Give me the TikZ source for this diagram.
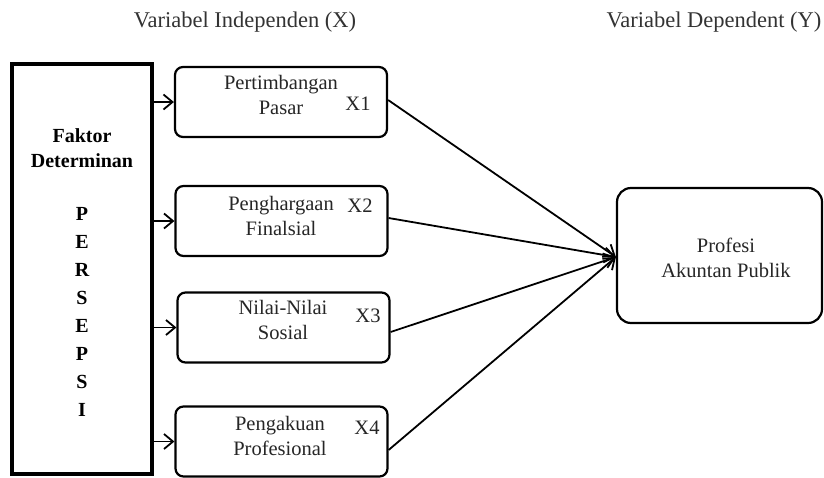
\documentclass[tikz,border=0pt]{standalone}
\usepackage{fontspec}
\setmainfont{Liberation Serif}
\usetikzlibrary{arrows.meta}
\begin{document}
\begin{tikzpicture}[x=1pt,y=-1pt,
  box/.style={draw, line width=2.2pt, rounded corners=8pt, minimum width=212pt, minimum height=70pt, inner sep=0pt},
  txt/.style={font=\fontsize{20.5}{25}\selectfont, align=center, inner sep=0pt, text=black!85},
  ttl/.style={font=\fontsize{22.5}{25}\selectfont, inner sep=0pt, text=black!80},
  bld/.style={font=\bfseries\fontsize{20}{25}\selectfont, align=center, inner sep=0pt},
  conn/.style={line width=1.8pt, -{Straight Barb[length=10pt,width=15pt,line width=1.8pt]}},
  lconn/.style={line width=1.8pt, -{Straight Barb[length=9pt,width=15pt,line width=1.8pt]}}]
\useasboundingbox (0,0) rectangle (824,477);
\fill[white] (0,0) rectangle (824,477);

% titles
\node[ttl] (tx) at (245,22) {Variabel Independen (X)};
\node[ttl] (ty) at (714,22) {Variabel Dependent (Y)};

% left box
\node[draw, line width=3.2pt, minimum width=140pt, minimum height=410pt, inner sep=0pt] (F) at (82,269) {};
\node[bld] (fk) at (82,148) {Faktor\\Determinan};
\node[bld, font=\bfseries\fontsize{20}{28}\selectfont] (ps) at (82,312) {P\\E\\R\\S\\E\\P\\S\\I};

% independent boxes
\node[box] (x1) at (281,102) {};
\node[box] (x2) at (281.5,221) {};
\node[box] (x3) at (283.5,327.5) {};
\node[box] (x4) at (281.5,441.5) {};

\node[txt] (t1) at (281,95) {Pertimbangan\\Pasar};
\node[txt] (t2) at (281,216) {Penghargaan\\Finalsial};
\node[txt] (t3) at (283,320) {Nilai-Nilai\\Sosial};
\node[txt] (t4) at (280,436) {Pengakuan\\Profesional};

\node[txt] (l1) at (358,104) {X1};
\node[txt] (l2) at (360,206) {X2};
\node[txt] (l3) at (368,316) {X3};
\node[txt] (l4) at (367,428) {X4};

% dependent box
\node[box, rounded corners=14pt, minimum width=205pt, minimum height=135pt] (Y) at (719.5,255.5) {};
\node[txt] (ty2) at (726,258) {Profesi\\Akuntan Publik};

% arrows from left box
\draw[lconn] (x1.west -| F.east) -- (x1.west);
\draw[lconn] (x2.west -| F.east) -- (x2.west);
\draw[lconn] (x3.west -| F.east) -- (x3.west);
\draw[lconn] (x4.west -| F.east) -- (x4.west);

% arrows to dependent box
\draw[conn] ([yshift=2pt]x1.east) -- ([yshift=-1.5pt]Y.west);
\draw[conn] ([yshift=3pt]x2.east) -- ([yshift=-1.5pt]Y.west);
\draw[conn] ([yshift=-4.5pt]x3.east) -- ([yshift=-1.5pt]Y.west);
\draw[conn] ([yshift=-8.5pt]x4.east) -- ([yshift=-1.5pt]Y.west);
\end{tikzpicture}
\end{document}
